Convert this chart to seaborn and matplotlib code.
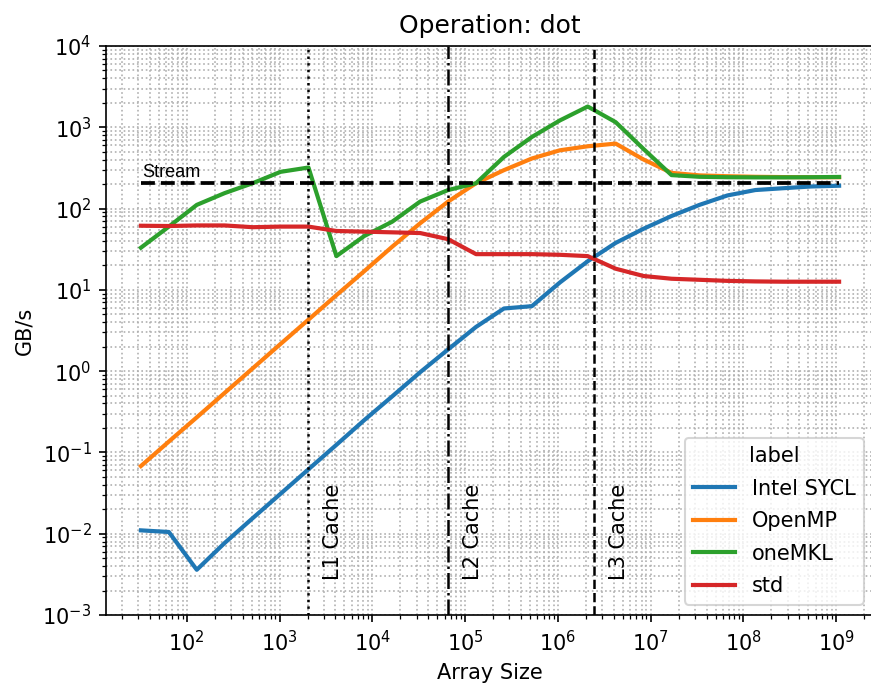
import numpy as np
import pandas as pd
import matplotlib
matplotlib.use("Agg")
import matplotlib.pyplot as plt
import seaborn as sns

# ---- data ----
array_sizes = [32, 64, 128, 256, 512, 1024, 2048, 4096, 8192, 16384, 32768, 65536,
               131072, 262144, 524288, 1048576, 2097152, 4194304, 8388608, 16777216,
               33554432, 67108864, 134217728, 268435456, 536870912, 1073741824]

intel_sycl = [0.011, 0.0105, 0.0036, 0.0077, 0.0155, 0.031, 0.062, 0.124, 0.25, 0.49,
              0.97, 1.85, 3.5, 5.9, 6.3, 12.3, 22.5, 37.8, 56.5, 81, 111, 145, 169,
              178, 187, 191]
openmp = [0.068, 0.136, 0.27, 0.54, 1.08, 2.16, 4.3, 8.6, 17, 34, 66, 122, 205, 297,
          413, 521, 584, 630, 401, 275, 256, 250, 246, 244, 243, 243]
onemkl = [33, 60, 111, 155, 205, 283, 320, 26, 46, 69, 122, 169, 205, 432, 760, 1213,
          1800, 1156, 540, 258, 246, 243, 242, 242, 243, 245]
std_vals = [61.5, 61, 62, 62, 59, 60, 60, 53, 52, 51, 50, 42, 27.5, 27.5, 27.5, 27, 26,
            18.2, 14.8, 13.7, 13.3, 12.9, 12.7, 12.6, 12.6, 12.6]

labels = ["Intel SYCL", "OpenMP", "oneMKL", "std"]
series = [intel_sycl, openmp, onemkl, std_vals]

x_major_ticks = [1e2, 1e3, 1e4, 1e5, 1e6, 1e7, 1e8, 1e9]
y_major_ticks = [1e-3, 1e-2, 1e-1, 1e0, 1e1, 1e2, 1e3, 1e4]

stream_bw = 205
cache_names = ["L1 Cache", "L2 Cache", "L3 Cache"]
cache_sizes = [2048, 65536, 2.46e6]
cache_styles = [":", "-.", "--"]

df = pd.DataFrame({
    "Array Size": np.tile(array_sizes, len(labels)),
    "GB/s": np.concatenate(series),
    "label": np.repeat(labels, len(array_sizes)),
})

# ---- figure ----
W, H, DPI = 871, 689, 150
fig = plt.figure(figsize=(W / DPI, H / DPI), dpi=DPI)
ax = fig.add_axes([106 / W, (H - 615) / H, (874 - 106) / W, (615 - 46) / H])

sns.lineplot(data=df, x="Array Size", y="GB/s", hue="label", ax=ax, linewidth=2)
ax.set_xscale("log")
ax.set_yscale("log")

lx0, lx1 = np.log10(array_sizes[0]), np.log10(array_sizes[-1])
span = lx1 - lx0
ax.set_xlim(10 ** (lx0 - 0.05 * span), 10 ** (lx1 + 0.05 * span))
ax.set_ylim(1e-3, 1e4)
ax.set_xticks(x_major_ticks)
ax.set_yticks(y_major_ticks)
ax.xaxis.set_minor_locator(matplotlib.ticker.LogLocator(base=10, subs=np.arange(2, 10), numticks=30))
ax.yaxis.set_minor_locator(matplotlib.ticker.LogLocator(base=10, subs=np.arange(2, 10), numticks=30))
ax.xaxis.set_minor_formatter(matplotlib.ticker.NullFormatter())
ax.yaxis.set_minor_formatter(matplotlib.ticker.NullFormatter())
ax.set_xlim(10 ** (lx0 - 0.05 * span), 10 ** (lx1 + 0.05 * span))
ax.set_ylim(1e-3, 1e4)

ax.grid(True, which="both", linestyle=":", color="#b0b0b0", linewidth=0.8)

ax.hlines(stream_bw, array_sizes[0], array_sizes[-1], colors="black",
          linestyles="--", linewidth=1.8)
ax.text(array_sizes[0] * 1.03, stream_bw * 1.2, "Stream", fontsize=8.7,
        family="Liberation Sans", va="baseline", ha="left")

trans = matplotlib.transforms.blended_transform_factory(ax.transData, ax.transAxes)
for name, size, ls in zip(cache_names, cache_sizes, cache_styles):
    ax.axvline(size, color="black", linestyle=ls, linewidth=1.2)
    ax.text(size * 1.45, 0.0615, name, rotation=90, transform=trans,
            ha="left", va="bottom", fontsize=10)

ax.set_title("Operation: dot")
ax.set_xlabel("Array Size")
ax.set_ylabel("GB/s")
ax.legend(title="label", loc="lower right", labelspacing=0.6)

fig.savefig("out.png", dpi=DPI)
